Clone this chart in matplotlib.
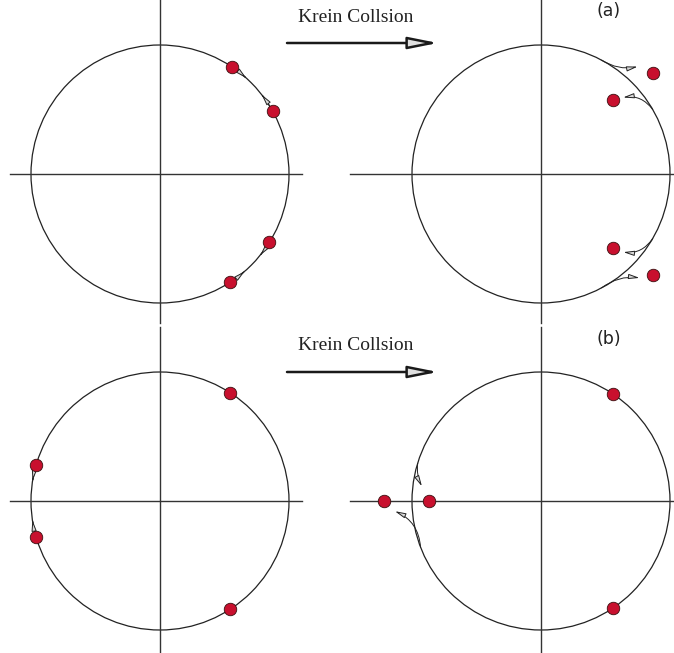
import numpy as np
import matplotlib
matplotlib.use("Agg")
import matplotlib.pyplot as plt
from matplotlib.patches import FancyArrowPatch, Circle
from matplotlib.path import Path

# eigenvalues (radius, angle in degrees) on / near the unit circle, per panel
tl_r = [1.0, 1.0, 1.0, 1.0]
tl_ang = [56, 29, -32, -57]
tr_r = [1.17, 0.80, 0.80, 1.17]
tr_ang = [42, 46, -46, -42]
bl_r = [1.0, 1.0, 1.0, 1.0]
bl_ang = [57, 164, -164, -57]
br_r = [1.0, 1.22, 0.87, 1.0]
br_ang = [56, 180, 180, -56]

# arrows along the circle (start angle -> end angle), left panels
tl_arc = [(56, 48), (29, 38), (-32, -39), (-57, -49)]
bl_arc = [(164, 171), (-164, -171.5)]
# arrows leaving the circle: (r0, a0, r1, a1, curvature)
tr_off = [(1.0, 62, 1.12, 48, 0.2), (1.0, 30, 0.87, 43, 0.3),
          (1.0, -30, 0.88, -43.5, -0.3), (1.0, -62, 1.11, -46.5, -0.2)]
br_off = [(1.0, 163, 0.93, 173, 0.15), (1.0, -159, 1.135, -176, 0.3)]

R = 129
CX = [160, 541]
CY = [174, 501]
RED = "#c8102e"
LINE = "#222222"
HEAD = "-|>,head_length=6.5,head_width=1.5"

fig = plt.figure(figsize=(6.74, 6.53), dpi=100)
ax = fig.add_axes([0, 0, 1, 1])
ax.set_xlim(0, 674)
ax.set_ylim(653, 0)
ax.axis("off")


def to_px(cx, cy, r, a):
    t = np.radians(a)
    return cx + R * r * np.cos(t), cy - R * r * np.sin(t)


def panel(cx, cy, top):
    ax.add_patch(Circle((cx, cy), R, fill=False, ec=LINE, lw=0.9))
    x0, x1 = (10, 302) if cx < 300 else (350, 674)
    ax.plot([x0, x1], [cy, cy], color="#333333", lw=1.0)
    y0, y1 = (0, 323) if top else (327, 653)
    ax.plot([cx, cx], [y0, y1], color="#333333", lw=1.0)


def dots(cx, cy, rs, angs):
    xs, ys = to_px(cx, cy, np.array(rs), np.array(angs))
    ax.plot(xs, ys, "o", ms=9, mfc=RED, mec="#3a1010", mew=0.6, zorder=5)


def arc_arrow(cx, cy, a0, a1):
    t = np.linspace(a0, a1, 20)
    xs, ys = to_px(cx, cy, 1.0, t)
    ax.add_patch(FancyArrowPatch(path=Path(np.column_stack([xs, ys])),
                 arrowstyle=HEAD, mutation_scale=1,
                 fc="#d8d8d8", ec=LINE, lw=0.7, zorder=4))


def off_arrow(cx, cy, r0, a0, r1, a1, rad):
    p0 = to_px(cx, cy, r0, a0)
    p1 = to_px(cx, cy, r1, a1)
    ax.add_patch(FancyArrowPatch(p0, p1, connectionstyle=f"arc3,rad={rad}",
                 arrowstyle=HEAD, mutation_scale=1,
                 fc="#d8d8d8", ec=LINE, lw=0.7, shrinkA=0, shrinkB=0, zorder=4))


panel(CX[0], CY[0], True)
panel(CX[1], CY[0], True)
panel(CX[0], CY[1], False)
panel(CX[1], CY[1], False)

for a0, a1 in tl_arc:
    arc_arrow(CX[0], CY[0], a0, a1)
for a0, a1 in bl_arc:
    arc_arrow(CX[0], CY[1], a0, a1)
for r0, a0, r1, a1, rad in tr_off:
    off_arrow(CX[1], CY[0], r0, a0, r1, a1, rad)
for r0, a0, r1, a1, rad in br_off:
    off_arrow(CX[1], CY[1], r0, a0, r1, a1, rad)

dots(CX[0], CY[0], tl_r, tl_ang)
dots(CX[1], CY[0], tr_r, tr_ang)
dots(CX[0], CY[1], bl_r, bl_ang)
dots(CX[1], CY[1], br_r, br_ang)

# "Krein Collsion" transition arrows and panel tags
for ty, ay, tag, tagy in [(17, 43, "(a)", 11), (345, 372, "(b)", 339)]:
    ax.text(356, ty, "Krein Collsion", ha="center", va="center",
            fontsize=14, family="Liberation Serif", color="#222222")
    ax.add_patch(FancyArrowPatch((287, ay), (438, ay), shrinkA=0, shrinkB=0,
                 arrowstyle="-|>,head_length=18,head_width=3.6", mutation_scale=1,
                 fc="#e0e0e0", ec="#1a1a1a", lw=1.8))
    ax.text(609, tagy, tag, ha="center", va="center", fontsize=12.5,
            family="DejaVu Sans", color="#222222")

fig.savefig("out.png", dpi=100, facecolor="white")
